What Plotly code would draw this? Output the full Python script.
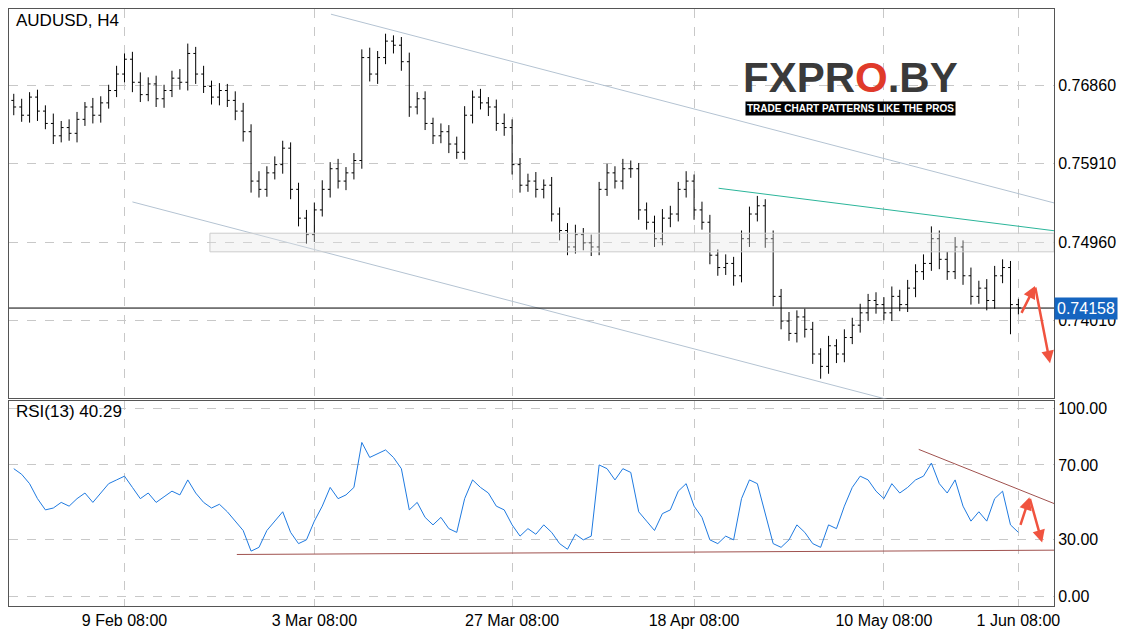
import plotly.graph_objects as go
from plotly.subplots import make_subplots

# closes (one bar per ~8 px)
closes = [0.7660, 0.7650, 0.7672, 0.7655, 0.7640, 0.7625, 0.7635, 0.7628, 0.7645, 0.7660,
          0.7650, 0.7665, 0.7680, 0.7700, 0.7718, 0.7690, 0.7675, 0.7688, 0.7670, 0.7680,
          0.7695, 0.7690, 0.7725, 0.7700, 0.7685, 0.7672, 0.7680, 0.7668, 0.7655, 0.7630,
          0.7570, 0.7560, 0.7580, 0.7590, 0.7610, 0.7560, 0.7525, 0.7505, 0.7535, 0.7560,
          0.7585, 0.7570, 0.7580, 0.7595, 0.7720, 0.7700, 0.7720, 0.7740, 0.7735, 0.7715,
          0.7660, 0.7670, 0.7640, 0.7625, 0.7630, 0.7615, 0.7605, 0.7650, 0.7672, 0.7665,
          0.7660, 0.7640, 0.7635, 0.7590, 0.7565, 0.7570, 0.7560, 0.7565, 0.7530, 0.7510,
          0.7490, 0.7505, 0.7495, 0.7490, 0.7560, 0.7580, 0.7570, 0.7585, 0.7585, 0.7535,
          0.7520, 0.7500, 0.7525, 0.7530, 0.7560, 0.7570, 0.7535, 0.7520, 0.7480, 0.7465,
          0.7470, 0.7455, 0.7500, 0.7530, 0.7540, 0.7500, 0.7430, 0.7400, 0.7385, 0.7405,
          0.7390, 0.7360, 0.7345, 0.7370, 0.7360, 0.7380, 0.7395, 0.7410, 0.7425, 0.7420,
          0.7410, 0.7430, 0.7420, 0.7440, 0.7460, 0.7470, 0.7500, 0.7475, 0.7460, 0.7490,
          0.7455, 0.7430, 0.7440, 0.7425, 0.7455, 0.7465, 0.7420, 0.7416]
hi_pips = [8, 10, 6, 9, 7, 12, 8, 10, 9, 6, 11, 8, 7, 10, 7, 9, 12, 8, 10, 7,
           9, 11, 12, 8, 10, 7, 9, 8, 11, 10, 9, 12, 8, 10, 9, 7, 8, 10, 9, 11,
           8, 12, 7, 9, 10, 12, 8, 9, 7, 10, 11, 8, 9, 7, 10, 8, 9, 11, 8, 10,
           7, 9, 12, 10, 8, 9, 11, 7, 10, 8, 9, 12, 8, 10, 9, 11, 8, 12, 10, 7,
           9, 8, 11, 10, 9, 12, 8, 10, 9, 7, 11, 8, 10, 9, 12, 8, 10, 9, 11, 8,
           10, 9, 7, 12, 8, 10, 9, 11, 8, 10, 9, 12, 8, 10, 9, 11, 15, 10, 9, 12,
           8, 10, 9, 11, 12, 10, 8, 7]
lo_pips = [10, 8, 9, 12, 7, 10, 8, 9, 11, 8, 10, 9, 7, 8, 10, 12, 9, 8, 10, 11,
           8, 9, 10, 12, 8, 9, 10, 8, 11, 12, 14, 10, 9, 8, 11, 12, 10, 11, 9, 8,
           10, 9, 11, 8, 10, 9, 12, 8, 10, 11, 12, 9, 8, 10, 9, 11, 8, 9, 10, 8,
           11, 9, 10, 12, 9, 8, 10, 11, 9, 12, 10, 8, 9, 11, 10, 8, 9, 10, 11, 12,
           9, 10, 8, 11, 9, 10, 12, 9, 11, 10, 9, 12, 8, 10, 9, 11, 12, 10, 9, 11,
           10, 12, 15, 9, 11, 10, 8, 9, 10, 11, 9, 10, 8, 9, 11, 10, 9, 12, 10, 9,
           11, 10, 9, 12, 10, 9, 36, 8]
rsi = [68, 65, 60, 52, 46, 47, 50, 48, 52, 55, 50, 55, 60, 62, 64, 58, 52, 55, 50, 53,
       56, 54, 62, 55, 50, 47, 49, 45, 40, 35, 24, 26, 35, 40, 45, 34, 28, 30, 40, 48,
       58, 52, 54, 58, 82, 74, 76, 78, 74, 68, 46, 50, 42, 38, 42, 36, 34, 52, 62, 58,
       55, 48, 46, 38, 32, 36, 33, 38, 34, 28, 25, 33, 30, 32, 70, 68, 62, 68, 66, 45,
       40, 35, 44, 46, 56, 60, 48, 42, 30, 28, 32, 30, 52, 62, 60, 44, 28, 26, 30, 38,
       34, 28, 26, 38, 36, 48, 58, 64, 62, 56, 52, 60, 55, 58, 62, 64, 71, 60, 55, 62,
       48, 40, 45, 40, 52, 56, 38, 34]

tick_idx = [14, 38, 63, 86, 110, 127]
tick_labels = ["9 Feb 08:00", "3 Mar 08:00", "27 Mar 08:00", "18 Apr 08:00", "10 May 08:00", "1 Jun 08:00"]
price_ticks = [0.74010, 0.74960, 0.75910, 0.76860]
rsi_ticks = [0, 30, 70, 100]
last_price = 0.74158

# drawn lines: (x0, y0, x1, y1) in bar index / value
upper_channel = (40.1, 0.77727, 131.5, 0.75435)
lower_channel = (15.0, 0.75447, 119.4, 0.72823)
green_line = (89.1, 0.75613, 131.5, 0.75097)
zone = (24.8, 0.75067, 131.5, 0.74841)
rsi_upper = (114.4, 78.3, 131.5, 49.4)
rsi_lower = (28.2, 22.2, 131.5, 24.5)
arrows_main = [(127.3, 0.74081), (129.1, 0.74426), (131.0, 0.73488)]
arrows_rsi = [(127.2, 37.2), (128.4, 52.7), (130.0, 28.6)]

idx = list(range(len(closes)))
opens = [closes[0] + 0.0008] + closes[:-1]
highs = [max(o, c) + h * 0.0001 for o, c, h in zip(opens, closes, hi_pips)]
lows = [min(o, c) - l * 0.0001 for o, c, l in zip(opens, closes, lo_pips)]

fig = make_subplots(rows=2, cols=1, shared_xaxes=True, row_heights=[0.655, 0.345], vertical_spacing=0.004)
fig.add_trace(go.Ohlc(x=idx, open=opens, high=highs, low=lows, close=closes,
                      increasing_line_color="black", decreasing_line_color="black",
                      line_width=1, tickwidth=0.3, showlegend=False), row=1, col=1)
fig.add_trace(go.Scatter(x=idx, y=rsi, mode="lines", line=dict(color="#1f7ae0", width=1),
                         showlegend=False), row=2, col=1)

def seg(c, color, xref, yref, width=1):
    fig.add_shape(type="line", x0=c[0], y0=c[1], x1=c[2], y1=c[3], xref=xref, yref=yref,
                  line=dict(color=color, width=width))

seg(upper_channel, "#b4c3d2", "x", "y")
seg(lower_channel, "#b4c3d2", "x", "y")
seg(green_line, "#2bb59a", "x", "y")
fig.add_shape(type="rect", x0=zone[0], y0=zone[1], x1=zone[2], y1=zone[3], xref="x", yref="y",
              line=dict(color="#cccccc", width=1), fillcolor="rgba(230,230,230,0.35)")
fig.add_shape(type="line", x0=0, x1=1, xref="paper", y0=last_price, y1=last_price, yref="y",
              line=dict(color="black", width=1))
seg(rsi_upper, "#a0524f", "x2", "y2")
seg(rsi_lower, "#a0524f", "x2", "y2")

for pts, yr in [(arrows_main, "y"), (arrows_rsi, "y2")]:
    xr = "x" if yr == "y" else "x2"
    for a, b in zip(pts[:-1], pts[1:]):
        fig.add_annotation(x=b[0], y=b[1], ax=a[0], ay=a[1], xref=xr, yref=yr, axref=xr, ayref=yr,
                           showarrow=True, arrowhead=2, arrowsize=1, arrowwidth=2.5,
                           arrowcolor="#f0533f", text="")

fig.add_annotation(x=1, xref="paper", y=last_price, yref="y", text="0.74158", showarrow=False,
                   xanchor="left", bgcolor="#1565c0", font=dict(color="white", size=16), borderpad=2)
fig.add_annotation(x=0.005, y=1, xref="paper", yref="paper", text="AUDUSD, H4", showarrow=False,
                   xanchor="left", yanchor="top", font=dict(size=17, color="black"))
fig.add_annotation(x=0.005, y=0.345, xref="paper", yref="paper", text="RSI(13) 40.29", showarrow=False,
                   xanchor="left", yanchor="top", font=dict(size=17, color="black"))
fig.add_annotation(x=0.805, y=0.885, xref="paper", yref="paper", xanchor="center", yanchor="middle",
                   text="<b>FXPR<span style='color:#e03a2a'>O</span>.BY</b>", showarrow=False,
                   font=dict(size=42, color="#3a3a3a", family="Liberation Sans"))
fig.add_annotation(x=0.805, y=0.833, xref="paper", yref="paper", xanchor="center", yanchor="middle",
                   text="<b>TRADE CHART PATTERNS LIKE THE PROS</b>",
                   showarrow=False, bgcolor="black", font=dict(size=10, color="white"))

grid = dict(showgrid=True, gridcolor="#c8c8c8", griddash="dash", gridwidth=1,
            showline=True, linecolor="#555", mirror=True, zeroline=False)
fig.update_xaxes(range=[-0.6, 131.5], tickvals=tick_idx, ticktext=tick_labels, rangeslider_visible=False,
                 ticks="", tickfont=dict(size=16, color="black"), **grid)
fig.update_yaxes(side="right", ticks="", tickfont=dict(size=16, color="black"), **grid)
fig.update_yaxes(range=[0.7306, 0.7779], tickvals=price_ticks, tickformat=".5f", row=1, col=1)
fig.update_yaxes(range=[-5.3, 104.2], tickvals=rsi_ticks, tickformat=".2f", row=2, col=1)
fig.update_layout(width=1136, height=640, margin=dict(l=1, r=90, t=1, b=42),
                  plot_bgcolor="white", paper_bgcolor="white",
                  font=dict(family="Liberation Sans"))
fig.write_html("out.html")
